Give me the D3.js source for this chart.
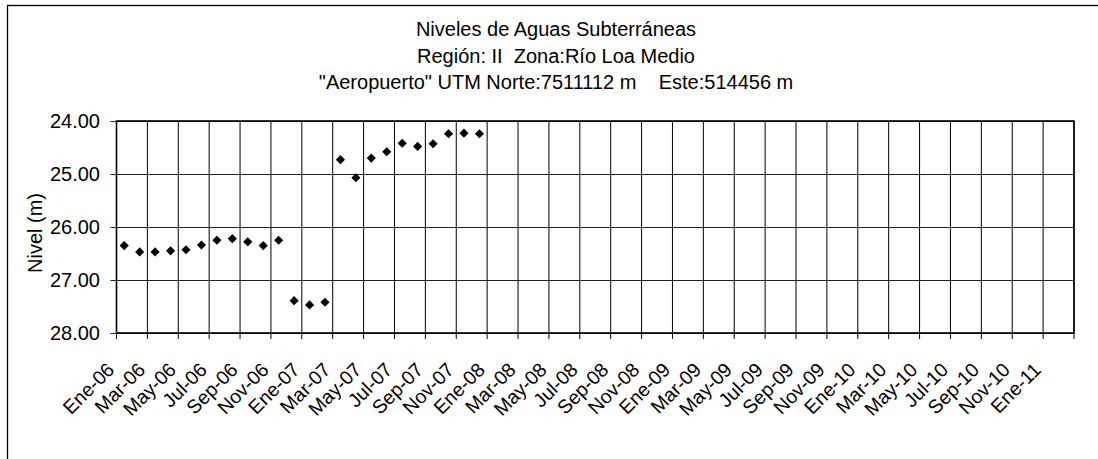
<!DOCTYPE html>
<html>
<head>
<meta charset="utf-8">
<script src="https://cdn.jsdelivr.net/npm/d3@7"></script>
<style>
  html, body { margin: 0; padding: 0; background: #fff; }
  svg { display: block; font-family: "Liberation Sans", Arial, sans-serif; }
  text { white-space: pre; }
</style>
</head>
<body>
<svg id="chart" width="1098" height="459"></svg>
<script>
// ---- data ----
const titleLines = [
  "Niveles de Aguas Subterráneas",
  "Región: II  Zona:Río Loa Medio",
  "\"Aeropuerto\" UTM Norte:7511112 m    Este:514456 m"
];
const yLabel = "Nivel (m)";
const dataMonths = [
  "2006-01","2006-02","2006-03","2006-04","2006-05","2006-06",
  "2006-07","2006-08","2006-09","2006-10","2006-11","2006-12",
  "2007-01","2007-02","2007-03","2007-04","2007-05","2007-06",
  "2007-07","2007-08","2007-09","2007-10","2007-11","2007-12"
];
const nivel = [
  26.35, 26.47, 26.47, 26.45, 26.43, 26.34,
  26.25, 26.22, 26.28, 26.35, 26.25, 27.39,
  27.47, 27.42, 24.73, 25.07, 24.70, 24.58,
  24.42, 24.48, 24.43, 24.24, 24.23, 24.24
];
const tickLabels = [
  "Ene-06","Mar-06","May-06","Jul-06","Sep-06","Nov-06",
  "Ene-07","Mar-07","May-07","Jul-07","Sep-07","Nov-07",
  "Ene-08","Mar-08","May-08","Jul-08","Sep-08","Nov-08",
  "Ene-09","Mar-09","May-09","Jul-09","Sep-09","Nov-09",
  "Ene-10","Mar-10","May-10","Jul-10","Sep-10","Nov-10",
  "Ene-11"
];
const yTicks = [24, 25, 26, 27, 28];
const axisStart = new Date(2006, 0, 1);
const axisEnd = new Date(2011, 2, 1);

// ---- layout ----
const svg = d3.select("#chart");
const pLeft = 116.5, pRight = 1074, pTop = 121, pBottom = 333;
const fmtKey = d3.timeFormat("%Y-%m");
const axisMonths = d3.timeMonth.range(axisStart, axisEnd).map(fmtKey);

const x = d3.scaleBand().domain(axisMonths).range([pLeft, pRight]).padding(0);
const y = d3.scaleLinear().domain([24, 28]).range([pTop, pBottom]);

// outer chart border
svg.append("rect")
  .attr("x", 7.5).attr("y", 5.5)
  .attr("width", 1200).attr("height", 600)
  .attr("fill", "none").attr("stroke", "#000").attr("stroke-width", 1.3);

// title
svg.append("g").selectAll("text").data(titleLines).join("text")
  .attr("x", 556).attr("y", (d, i) => 36 + i * 26.5)
  .attr("text-anchor", "middle")
  .attr("font-size", 20)
  .attr("fill", "#000")
  .text(d => d);

// tick positions on x
const tickPos = tickLabels.map((t, i) => x(axisMonths[i * 2]));
const allTickPos = tickPos.concat([pRight]);

// grid lines
const grid = svg.append("g");
grid.selectAll("line.v").data(allTickPos).join("line")
  .attr("class", "v")
  .attr("x1", d => d).attr("x2", d => d)
  .attr("y1", pTop).attr("y2", pBottom + 6)
  .attr("stroke", "#000").attr("stroke-width", 1);
grid.selectAll("line.h").data(yTicks).join("line")
  .attr("class", "h")
  .attr("x1", pLeft - 6).attr("x2", pRight)
  .attr("y1", d => y(d) + 0.5).attr("y2", d => y(d) + 0.5)
  .attr("stroke", "#222").attr("stroke-width", 1);

// plot frame
svg.append("rect")
  .attr("x", pLeft).attr("y", pTop)
  .attr("width", pRight - pLeft).attr("height", pBottom - pTop)
  .attr("fill", "none").attr("stroke", "#000").attr("stroke-width", 1.6);

// y tick labels
svg.append("g").selectAll("text").data(yTicks).join("text")
  .attr("x", 100).attr("y", d => y(d))
  .attr("dy", "0.35em")
  .attr("text-anchor", "end")
  .attr("font-size", 20)
  .text(d => d3.format(".2f")(d));

// y axis label
svg.append("text")
  .attr("transform", `translate(42, ${(pTop + pBottom) / 2 + 6}) rotate(-90)`)
  .attr("text-anchor", "middle")
  .attr("font-size", 20)
  .text(yLabel);

// x tick labels
svg.append("g").selectAll("text").data(tickLabels).join("text")
  .attr("transform", (d, i) => `translate(${tickPos[i] - 1}, 371) rotate(-45)`)
  .attr("text-anchor", "end")
  .attr("font-size", 19.5)
  .text(d => d);

// points
const pts = dataMonths.map((m, i) => ({ m, v: nivel[i] }));
const sym = d3.symbol(d3.symbolSquare, 42);
svg.append("g").selectAll("path").data(pts).join("path")
  .attr("d", sym)
  .attr("transform", d => `translate(${x(d.m) + x.bandwidth() / 2}, ${y(d.v)}) rotate(45)`)
  .attr("fill", "#000");
</script>
</body>
</html>
